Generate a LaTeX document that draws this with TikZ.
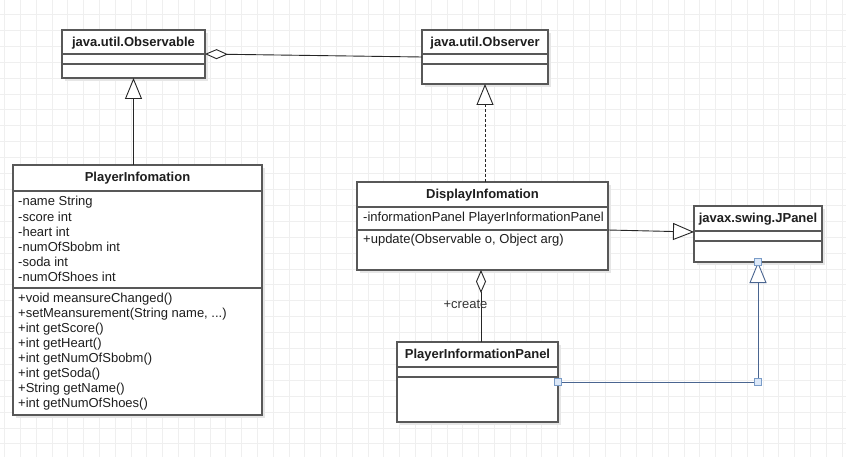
\documentclass[tikz,border=0pt]{standalone}
\usepackage{fontspec}
\setmainfont{Liberation Sans}
\usetikzlibrary{arrows.meta,calc}
\definecolor{gridc}{HTML}{EFEFEF}
\definecolor{boxc}{HTML}{585858}
\definecolor{textc}{HTML}{1E1E1E}
\definecolor{shadc}{HTML}{E6E6E6}
\definecolor{bluec}{HTML}{4A6590}
\definecolor{handlefill}{HTML}{DCE8F8}
\definecolor{handledraw}{HTML}{7A9CC8}
\tikzset{
  umlbox/.style={draw=boxc, line width=1.3pt, fill=white, rectangle, anchor=north west, inner sep=0pt, outer sep=0pt},
  shadowbox/.style={fill=shadc, draw=none},
  sepline/.style={draw=boxc, line width=1.3pt},
  titletxt/.style={font=\bfseries\fontsize{13}{15}\selectfont, text=textc, inner sep=0pt},
  bodytxt/.style={font=\fontsize{13}{15}\selectfont, text=textc, anchor=west, inner sep=0pt},
  conn/.style={draw=black!85, line width=0.9pt},
  gentip/.style={-{Triangle[open, length=21pt, width=17pt, fill=white, line width=0.9pt]}},
  aggtip/.style={{Diamond[open, length=23pt, width=10pt, fill=white, line width=0.9pt]}-},
  handle/.style={draw=handledraw, fill=handlefill, line width=0.7pt, minimum size=7pt, inner sep=0pt, rectangle},
}
\begin{document}
\begin{tikzpicture}[x=1pt,y=-1pt]
\useasboundingbox (0,0) rectangle (846,457);
\fill[white] (0,0) rectangle (846,457);
% grid
\foreach \i in {0,...,53} {\draw[gridc, line width=0.8pt] ({4.6+15.8*\i},0) -- ({4.6+15.8*\i},457);}
\foreach \j in {0,...,29} {\draw[gridc, line width=0.8pt] (0,{-1.4+15.9*\j}) -- (846,{-1.4+15.9*\j});}

% shadows
\fill[shadowbox] (65,33) rectangle (208,81);
\fill[shadowbox] (425,33) rectangle (551,87);
\fill[shadowbox] (16,168) rectangle (265,418);
\fill[shadowbox] (360,185) rectangle (611,273);
\fill[shadowbox] (697,209) rectangle (825,265);
\fill[shadowbox] (400,345) rectangle (561,425);

% java.util.Observable
\node[umlbox, minimum width=143pt, minimum height=48pt] (obs) at (62,30) {};
\draw[sepline] (62,54) -- (205,54);
\draw[sepline] (62,64) -- (205,64);
\node[titletxt] (obst) at (133.5,43) {java.util.Observable};

% java.util.Observer
\node[umlbox, minimum width=126pt, minimum height=54pt] (obsr) at (422,30) {};
\draw[sepline] (422,54) -- (548,54);
\draw[sepline] (422,64) -- (548,64);
\node[titletxt] (obsrt) at (485,43) {java.util.Observer};

% PlayerInfomation
\node[umlbox, minimum width=249pt, minimum height=250pt] (pi) at (13,165) {};
\draw[sepline] (13,191) -- (262,191);
\draw[sepline] (13,288) -- (262,288);
\node[titletxt] (pit) at (137.5,178) {PlayerInfomation};
\node[bodytxt] (pia1) at (18,202) {-name String};
\node[bodytxt] (pia2) at (18,217) {-score int};
\node[bodytxt] (pia3) at (18,232) {-heart int};
\node[bodytxt] (pia4) at (18,247) {-numOfSbobm int};
\node[bodytxt] (pia5) at (18,262) {-soda int};
\node[bodytxt] (pia6) at (18,277) {-numOfShoes int};
\node[bodytxt] (pim1) at (18,299) {+void meansureChanged()};
\node[bodytxt] (pim2) at (18,314) {+setMeansurement(String name, ...)};
\node[bodytxt] (pim3) at (18,329) {+int getScore()};
\node[bodytxt] (pim4) at (18,344) {+int getHeart()};
\node[bodytxt] (pim5) at (18,359) {+int getNumOfSbobm()};
\node[bodytxt] (pim6) at (18,374) {+int getSoda()};
\node[bodytxt] (pim7) at (18,389) {+String getName()};
\node[bodytxt] (pim8) at (18,404) {+int getNumOfShoes()};

% DisplayInfomation
\node[umlbox, minimum width=251pt, minimum height=88pt] (di) at (357,182) {};
\draw[sepline] (357,207) -- (608,207);
\draw[sepline] (357,230) -- (608,230);
\node[titletxt] (dit) at (482.5,195) {DisplayInfomation};
\node[bodytxt] (dia1) at (363,218) {-informationPanel PlayerInformationPanel};
\node[bodytxt] (dim1) at (363,240) {+update(Observable o, Object arg)};

% javax.swing.JPanel
\node[umlbox, minimum width=128pt, minimum height=56pt] (jp) at (694,206) {};
\draw[sepline] (694,231) -- (822,231);
\draw[sepline] (694,241) -- (822,241);
\node[titletxt] (jpt) at (758,219) {javax.swing.JPanel};

% PlayerInformationPanel
\node[umlbox, minimum width=161pt, minimum height=80pt] (pip) at (397,342) {};
\draw[sepline] (397,367) -- (558,367);
\draw[sepline] (397,377) -- (558,377);
\node[titletxt] (pipt) at (477.5,355) {PlayerInformationPanel};

% connectors
\draw[conn, aggtip] (obs.east) -- (obsr.west);
\draw[conn, gentip] (pi.north -| obs.south) -- (obs.south);
\draw[conn, gentip, dashed, dash pattern=on 3pt off 2pt] (di.north -| obsr.south) -- (obsr.south);
\draw[conn, gentip] ([yshift=-4pt]di.east) -- ([yshift=2pt]jp.west);
\coordinate (dis) at ([xshift=-1.5pt]di.south);
\draw[conn, aggtip] (dis) -- (pip.north -| dis);
\node[font=\fontsize{13}{15}\selectfont, text=black!80, inner sep=0pt] (create) at (465.5,304) {+create};
\coordinate (bend) at (pip.east -| jp.south);
\draw[conn, draw=bluec, gentip] (pip.east) -- (bend) -- (jp.south);
\node[handle] (h1) at (pip.east) {};
\node[handle] (h2) at (bend) {};
\node[handle] (h3) at (jp.south) {};
\end{tikzpicture}
\end{document}
